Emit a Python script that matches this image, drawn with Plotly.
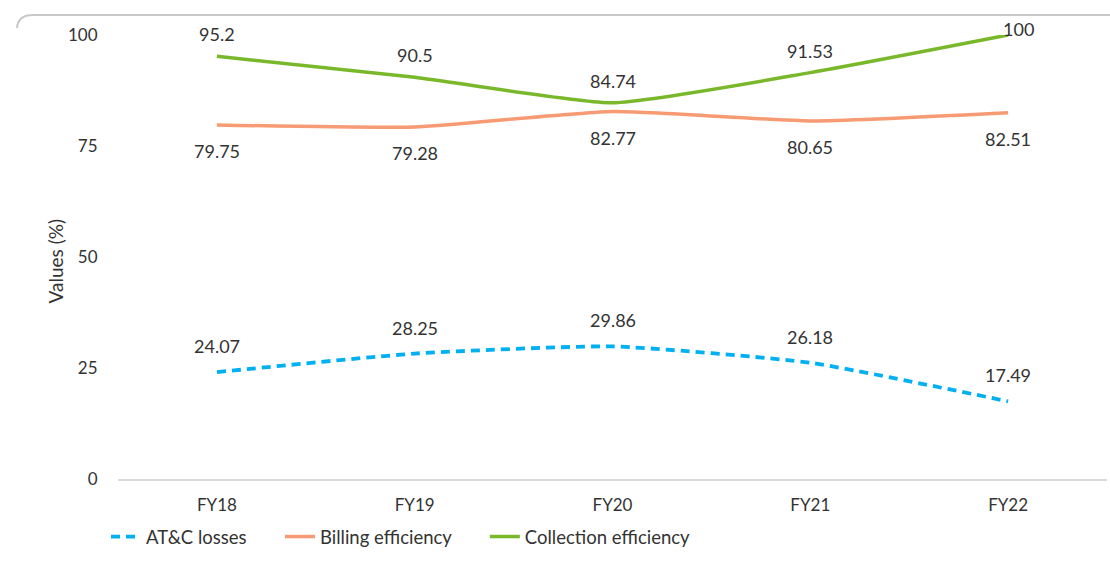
import plotly.graph_objects as go

# Financial-year categories and the three efficiency / loss series (%)
years = ["FY18", "FY19", "FY20", "FY21", "FY22"]
atc_losses = [24.07, 28.25, 29.86, 26.18, 17.49]
billing_eff = [79.75, 79.28, 82.77, 80.65, 82.51]
collection_eff = [95.2, 90.5, 84.74, 91.53, 100]
y_ticks = [0, 25, 50, 75, 100]

BLUE = "#00B0F0"
ORANGE = "#F79B74"
GREEN = "#7AB82B"
TEXT = "#333333"
FONT = "Lato, 'Open Sans', sans-serif"
FS = 17

W, H = 1110, 561
L, R, T, B = 118, 3, 35, 82

PAD = "\u00a0" * 6  # breathing room between legend entries

fig = go.Figure()
fig.add_trace(go.Scatter(
    x=years, y=atc_losses, name="AT&C losses" + PAD, mode="lines",
    line=dict(color=BLUE, width=3.8, dash="9px,6px", shape="spline", smoothing=0.5),
))
fig.add_trace(go.Scatter(
    x=years, y=billing_eff, name="Billing efficiency" + PAD, mode="lines",
    line=dict(color=ORANGE, width=3.5, shape="spline", smoothing=0.5),
))
fig.add_trace(go.Scatter(
    x=years, y=collection_eff, name="Collection efficiency", mode="lines",
    line=dict(color=GREEN, width=3.5, shape="spline", smoothing=0.5),
))

# Value labels: collection & AT&C above their line, billing below
annotations = []
for xs, ys, shift in ((years, collection_eff, 22), (years, atc_losses, 26), (years, billing_eff, -26)):
    for xv, yv in zip(xs, ys):
        top = yv >= 100
        annotations.append(dict(
            x=xv, y=yv, xref="x", yref="y", text=f"{yv:g}", showarrow=False,
            yshift=6 if top else shift, xshift=10 if top else 0,
            font=dict(size=FS + 1, color=TEXT, family=FONT),
        ))

# Y axis title
annotations.append(dict(
    x=-(L - 55) / (W - L - R), y=0.49, xref="paper", yref="paper",
    xanchor="center", yanchor="middle",
    text="Values (%)", textangle=-90, showarrow=False,
    font=dict(size=FS + 2, color=TEXT, family=FONT),
))

# Frame around the chart: rounded top-left corner with a top edge
def px(xp):
    return (xp - L) / (W - L - R)

def py(yp):
    return (H - B - yp) / (H - T - B)

frame_path = (
    f"M {px(17)},{py(28)} "
    f"Q {px(18)},{py(15)} {px(33)},{py(15)} L {px(1110)},{py(15)}"
)

fig.update_layout(
    width=W, height=H,
    margin=dict(l=L, r=R, t=T, b=B),
    paper_bgcolor="white", plot_bgcolor="white",
    font=dict(family=FONT, size=FS, color=TEXT),
    showlegend=True,
    legend=dict(
        orientation="h", x=px(106), y=py(537), xanchor="left", yanchor="middle",
        font=dict(size=FS + 1.5, color=TEXT, family=FONT),
        itemwidth=30, tracegroupgap=0, bgcolor="rgba(0,0,0,0)",
    ),
    xaxis=dict(
        type="category", range=[-0.5, 4.5], showgrid=False,
        showline=True, linecolor="#D9D9D9", linewidth=1.5,
        ticks="", tickfont=dict(size=FS, color=TEXT), ticklabelstandoff=10,
        fixedrange=True,
    ),
    yaxis=dict(
        range=[0, 100], tickvals=y_ticks, showgrid=False, zeroline=False,
        showline=False, ticks="outside", ticklen=16, tickcolor="rgba(0,0,0,0)",
        tickfont=dict(size=FS, color=TEXT),
    ),
    annotations=annotations,
    shapes=[dict(
        type="path", path=frame_path, xref="paper", yref="paper",
        line=dict(color="#C8C8C8", width=2), layer="below",
    )],
)

fig.write_html("out.html")
